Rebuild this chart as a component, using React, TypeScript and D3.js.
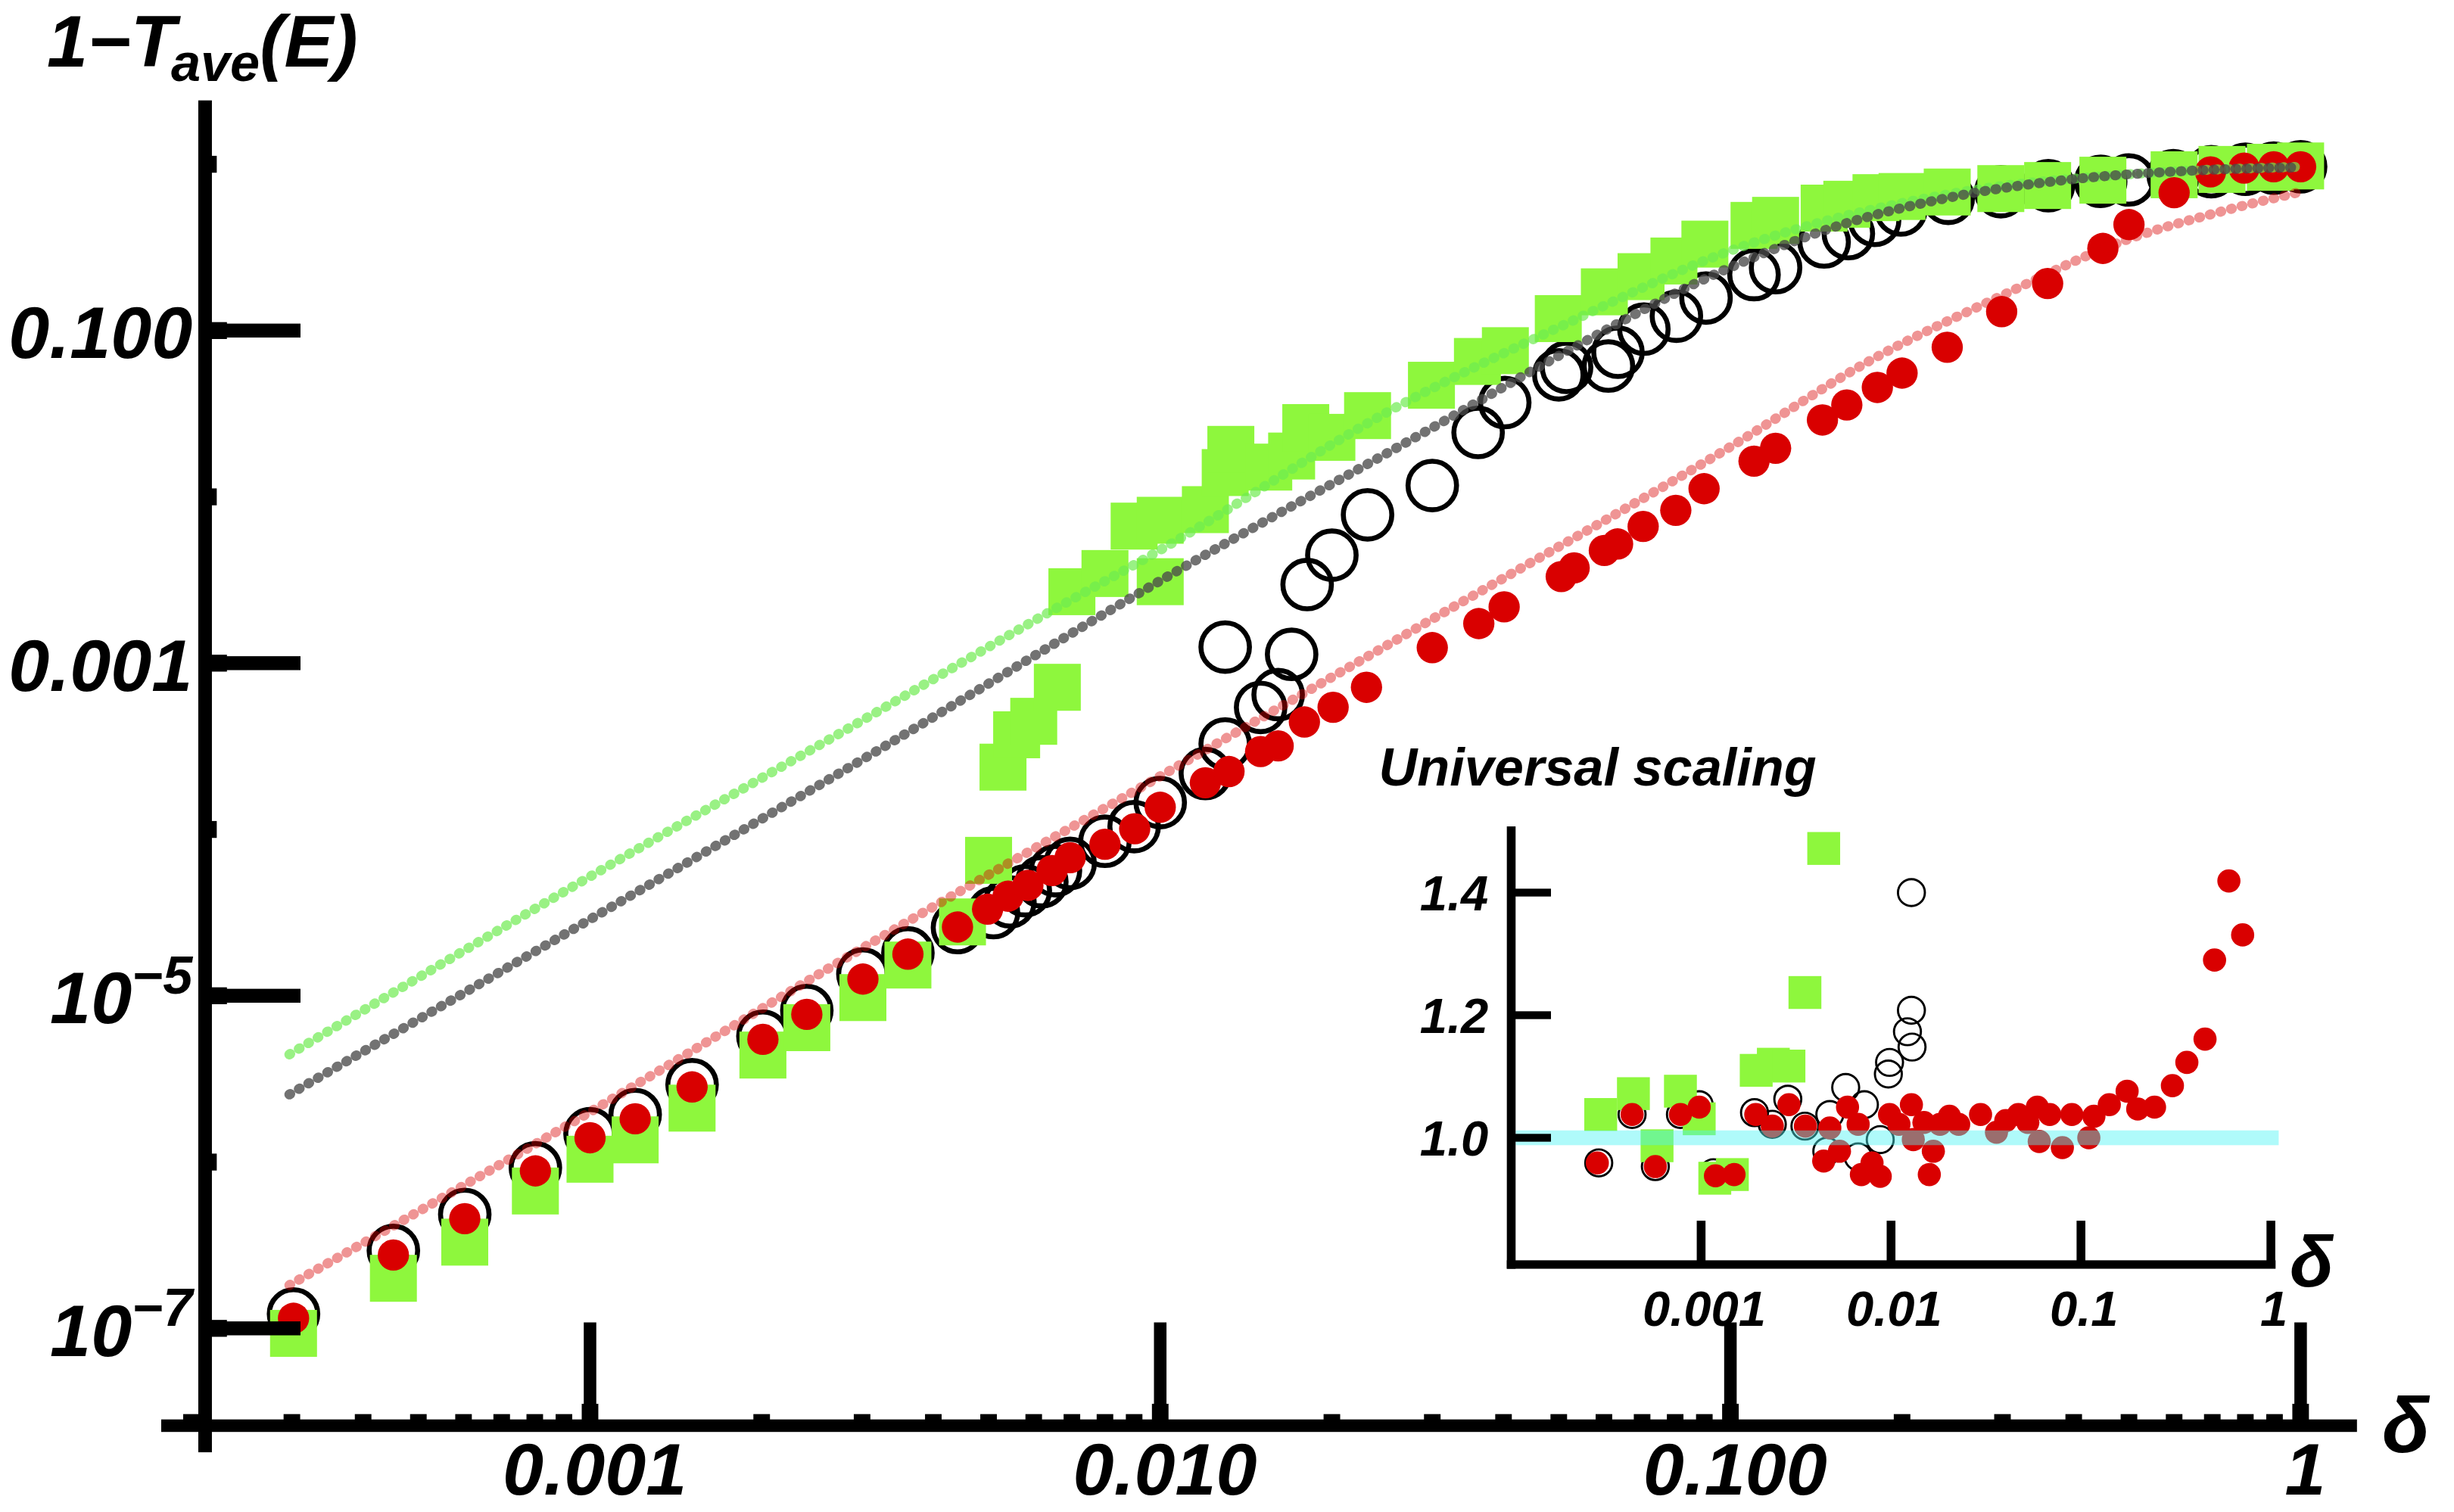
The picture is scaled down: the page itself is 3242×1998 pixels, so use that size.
import React from 'react'
import * as d3 from 'd3'

// ---- main panel: 1 - T_ave(E) against delta (log-log) ----
const redDelta = [3.02e-4, 4.52e-4, 6.03e-4, 8.02e-4, 1.0e-3, 1.2e-3, 1.51e-3, 2.01e-3, 2.4e-3, 3.01e-3, 3.61e-3, 4.41e-3, 4.98e-3, 5.41e-3, 5.86e-3, 6.46e-3, 6.95e-3, 8.0e-3, 9.02e-3, 1.0e-2, 1.2e-2, 1.32e-2, 1.5e-2, 1.61e-2, 1.79e-2, 2.01e-2, 2.3e-2, 3.0e-2, 3.62e-2, 4.01e-2, 5.05e-2, 5.32e-2, 6.01e-2, 6.34e-2, 7.03e-2, 8.02e-2, 8.99e-2, 0.11, 0.12, 0.145, 0.16, 0.181, 0.2, 0.24, 0.299, 0.36, 0.45, 0.5, 0.6, 0.695, 0.796, 0.897, 1.0]
const redT = [1.15e-7, 2.76e-7, 4.57e-7, 8.85e-7, 1.4e-6, 1.82e-6, 2.83e-6, 5.47e-6, 7.73e-6, 1.26e-5, 1.78e-5, 2.59e-5, 3.32e-5, 3.97e-5, 4.61e-5, 5.66e-5, 6.76e-5, 8.15e-5, 1.01e-4, 1.36e-4, 1.91e-4, 2.23e-4, 2.94e-4, 3.18e-4, 4.43e-4, 5.43e-4, 7.16e-4, 1.24e-3, 1.73e-3, 2.18e-3, 3.32e-3, 3.74e-3, 4.76e-3, 5.21e-3, 6.64e-3, 8.3e-3, 1.12e-2, 1.64e-2, 1.96e-2, 2.9e-2, 3.57e-2, 4.55e-2, 5.55e-2, 7.94e-2, 0.13, 0.192, 0.312, 0.434, 0.675, 0.9, 0.948, 0.966, 0.966]

const blackDelta = [3.02e-4, 4.52e-4, 6.03e-4, 8.02e-4, 1.0e-3, 1.2e-3, 1.51e-3, 2.01e-3, 2.4e-3, 3.01e-3, 3.61e-3, 4.41e-3, 5.1e-3, 5.45e-3, 5.8e-3, 6.2e-3, 6.55e-3, 6.95e-3, 8.0e-3, 9.0e-3, 1.0e-2, 1.2e-2, 1.3e-2, 1.3e-2, 1.5e-2, 1.61e-2, 1.7e-2, 1.81e-2, 2.0e-2, 2.31e-2, 3.0e-2, 3.61e-2, 4.02e-2, 5.0e-2, 5.16e-2, 6.11e-2, 6.35e-2, 7.05e-2, 8.04e-2, 9.06e-2, 0.11, 0.12, 0.146, 0.161, 0.179, 0.199, 0.241, 0.298, 0.361, 0.446, 0.5, 0.598, 0.697, 0.8, 0.897, 1.0]
const blackT = [1.22e-7, 2.94e-7, 4.84e-7, 9.23e-7, 1.48e-6, 1.93e-6, 2.92e-6, 5.71e-6, 8.15e-6, 1.35e-5, 1.81e-5, 2.57e-5, 3.16e-5, 3.67e-5, 4.28e-5, 4.85e-5, 5.65e-5, 6.25e-5, 8.49e-5, 1.04e-4, 1.45e-4, 2.17e-4, 3.27e-4, 1.25e-3, 5.42e-4, 6.47e-4, 1.13e-3, 2.97e-3, 4.46e-3, 7.8e-3, 1.17e-2, 2.44e-2, 3.69e-2, 5.42e-2, 6.01e-2, 6.12e-2, 7.41e-2, 0.102, 0.122, 0.157, 0.217, 0.239, 0.341, 0.383, 0.46, 0.531, 0.624, 0.684, 0.743, 0.789, 0.805, 0.855, 0.902, 0.933, 0.948, 0.966]

const greenDelta = [3.02e-4, 4.52e-4, 6.03e-4, 8.02e-4, 1.0e-3, 1.2e-3, 1.51e-3, 2.01e-3, 2.4e-3, 3.01e-3, 3.61e-3, 4.5e-3, 5.0e-3, 5.3e-3, 5.6e-3, 6.0e-3, 6.6e-3, 7.0e-3, 8.0e-3, 9.0e-3, 1.0e-2, 1.0e-2, 1.2e-2, 1.3e-2, 1.33e-2, 1.55e-2, 1.7e-2, 1.8e-2, 2.0e-2, 2.31e-2, 2.99e-2, 3.6e-2, 4.03e-2, 4.99e-2, 6.01e-2, 6.97e-2, 7.96e-2, 9.02e-2, 0.11, 0.12, 0.146, 0.16, 0.18, 0.2, 0.24, 0.298, 0.36, 0.45, 0.6, 0.728, 0.885, 1.0]
const greenT = [9.33e-8, 2.0e-7, 3.3e-7, 6.7e-7, 1.04e-6, 1.36e-6, 2.11e-6, 4.4e-6, 6.43e-6, 9.75e-6, 1.53e-5, 2.78e-5, 6.52e-5, 2.37e-4, 3.71e-4, 4.47e-4, 7.16e-4, 2.69e-3, 3.46e-3, 6.67e-3, 3.09e-3, 7.23e-3, 8.38e-3, 1.4e-2, 1.93e-2, 1.51e-2, 1.76e-2, 2.61e-2, 2.28e-2, 3.08e-2, 4.69e-2, 6.52e-2, 7.57e-2, 0.118, 0.171, 0.211, 0.262, 0.331, 0.429, 0.46, 0.545, 0.575, 0.63, 0.64, 0.681, 0.714, 0.745, 0.802, 0.865, 0.931, 0.959, 0.977]

// dotted theory lines, read at a few places along each line
const grayLineDelta = [2.97e-4, 1e-3, 3.16e-3, 1e-2, 3.16e-2, 5.01e-2, 0.1, 0.158, 0.251, 0.398, 0.631, 1]
const grayLineT = [2.55e-6, 2.88e-5, 2.92e-4, 3.13e-3, 2.88e-2, 7.08e-2, 0.24, 0.437, 0.646, 0.813, 0.912, 0.959]
const greenLineDelta = [2.97e-4, 1e-3, 3.16e-3, 6.31e-3, 1e-2, 2.63e-2, 5.01e-2, 0.1, 0.251, 0.501, 1]
const greenLineT = [4.44e-6, 5.21e-5, 5.01e-4, 1.98e-3, 4.79e-3, 3.55e-2, 0.105, 0.302, 0.676, 0.871, 0.966]
const pinkLineDelta = [2.97e-4, 1e-3, 3.16e-3, 1e-2, 3.16e-2, 0.1, 0.178, 0.299, 0.49, 0.715, 1]
const pinkLineT = [1.82e-7, 2.0e-6, 2.14e-5, 2.09e-4, 2.04e-3, 2.0e-2, 6.76e-2, 0.162, 0.347, 0.513, 0.682]

const xMajor = [1e-3, 1e-2, 1e-1, 1]
const xMajorLabels = ['0.001', '0.010', '0.100', '1']
const yDecades = [1, 1e-1, 1e-2, 1e-3, 1e-4, 1e-5, 1e-6, 1e-7]
const yLabelled = [1e-1, 1e-3, 1e-5, 1e-7]
const yLabelBase = ['0.100', '0.001', '10', '10']
const yLabelExp = ['', '', '−5', '−7']

// ---- inset: universal scaling ----
const insetRedDelta = [2.84e-4, 4.33e-4, 5.74e-4, 7.78e-4, 9.77e-4, 1.19e-3, 1.49e-3, 1.94e-3, 2.37e-3, 2.9e-3, 3.54e-3, 4.42e-3, 4.76e-3, 5.35e-3, 5.9e-3, 6.71e-3, 6.98e-3, 7.94e-3, 8.77e-3, 9.82e-3, 1.1e-2, 1.28e-2, 1.31e-2, 1.49e-2, 1.67e-2, 1.59e-2, 1.81e-2, 2.03e-2, 2.27e-2, 2.96e-2, 3.59e-2, 4.02e-2, 4.68e-2, 5.25e-2, 5.89e-2, 6.03e-2, 6.85e-2, 7.98e-2, 8.95e-2, 0.11, 0.117, 0.141, 0.175, 0.199, 0.244, 0.303, 0.361, 0.45, 0.505, 0.601, 0.71]
const insetRedRatio = [0.959, 1.038, 0.953, 1.038, 1.05, 0.938, 0.94, 1.038, 1.019, 1.054, 1.019, 0.962, 1.016, 0.978, 1.05, 1.022, 0.94, 0.959, 0.937, 1.038, 1.022, 1.054, 0.997, 1.025, 0.978, 0.94, 1.022, 1.035, 1.022, 1.038, 1.009, 1.028, 1.038, 1.025, 1.05, 0.994, 1.038, 0.984, 1.038, 1.0, 1.035, 1.054, 1.076, 1.047, 1.05, 1.085, 1.123, 1.161, 1.29, 1.419, 1.331]
const insetBlackDelta = [2.89e-4, 4.33e-4, 5.74e-4, 7.78e-4, 9.77e-4, 1.16e-3, 1.91e-3, 2.37e-3, 2.86e-3, 3.52e-3, 4.76e-3, 5.77e-3, 4.59e-3, 6.71e-3, 7.24e-3, 8.77e-3, 9.68e-3, 9.82e-3, 1.22e-2, 1.29e-2, 1.28e-2, 1.28e-2]
const insetBlackRatio = [0.959, 1.038, 0.953, 1.038, 1.054, 0.943, 1.041, 1.022, 1.063, 1.019, 1.038, 1.082, 0.978, 0.969, 1.054, 0.997, 1.104, 1.123, 1.173, 1.148, 1.208, 1.4]
const insetGreenDelta = [2.96e-4, 4.4e-4, 5.86e-4, 7.78e-4, 9.77e-4, 1.18e-3, 1.46e-3, 1.95e-3, 2.4e-3, 2.9e-3, 3.52e-3, 4.42e-3]
const insetGreenRatio = [1.038, 1.072, 0.987, 1.076, 1.031, 0.934, 0.94, 1.11, 1.12, 1.117, 1.237, 1.472]

const insetXTicks = [1e-3, 1e-2, 1e-1, 1]
const insetXLabels = ['0.001', '0.01', '0.1', '1']
const insetYTicks = [1.0, 1.2, 1.4]
const insetYLabels = ['1.0', '1.2', '1.4']

const FONT = "'Liberation Sans', Arial, Helvetica, sans-serif"
const RED = '#d90000'
const GREEN = '#8ef73d'

export default class App extends React.Component {
    svgRef = React.createRef<SVGSVGElement>()

    drawChart() {
        const svg = d3.select(this.svgRef.current)
        svg.selectAll('*').remove()

        const text = (g: any, x: number, y: number, size: number, anchor = 'start') =>
            g.append('text')
                .attr('x', x).attr('y', y)
                .attr('font-family', FONT).attr('font-size', size)
                .attr('font-weight', 'bold').attr('font-style', 'italic')
                .attr('text-anchor', anchor)

        // main scales (viewBox units)
        const x = d3.scaleLog().domain([1e-3, 1]).range([377, 1470])
        const y = d3.scaleLog().domain([1e-7, 1e-1]).range([848.8, 211.1])
        const main = svg.append('g')

        // data markers: rings, then squares, then dots
        main.append('g').selectAll('circle').data(d3.zip(blackDelta, blackT)).enter().append('circle')
            .attr('cx', d => x(d[0])).attr('cy', d => y(d[1])).attr('r', 15.5)
            .attr('fill', 'none').attr('stroke', '#000').attr('stroke-width', 3.2)
        main.append('g').selectAll('rect').data(d3.zip(greenDelta, greenT)).enter().append('rect')
            .attr('x', d => x(d[0]) - 15).attr('y', d => y(d[1]) - 15)
            .attr('width', 30).attr('height', 30).attr('fill', GREEN)
        main.append('g').selectAll('circle').data(d3.zip(redDelta, redT)).enter().append('circle')
            .attr('cx', d => x(d[0])).attr('cy', d => y(d[1])).attr('r', 10).attr('fill', RED)

        // dotted theory lines on top
        const line = d3.line<number[]>().x(d => x(d[0])).y(d => y(d[1])).curve(d3.curveMonotoneX)
        const lines = [
            { pts: d3.zip(greenLineDelta, greenLineT), color: 'rgb(110,235,80)', op: 0.7 },
            { pts: d3.zip(grayLineDelta, grayLineT), color: '#4a4a4a', op: 0.78 },
            { pts: d3.zip(pinkLineDelta, pinkLineT), color: RED, op: 0.42 },
        ]
        lines.forEach(l => {
            main.append('path').attr('d', line(l.pts)).attr('fill', 'none')
                .attr('stroke', l.color).attr('stroke-opacity', l.op)
                .attr('stroke-width', 6.4).attr('stroke-linecap', 'round')
                .attr('stroke-dasharray', '0.6 6.4')
        })

        // axes and ticks, drawn over the marks
        main.append('rect').attr('x', 103).attr('y', 907).attr('width', 1506 - 103).attr('height', 8)
        main.append('rect').attr('x', 126.7).attr('y', 64).attr('width', 8.7).attr('height', 928 - 64)

        // x ticks: a short fat mark at every 1..9 multiple, a long one at decades
        const xMinor = d3.scaleLog().domain([1.9e-4, 1]).ticks()
        main.append('g').selectAll('rect').data(xMinor).enter().append('rect')
            .attr('x', d => x(d) - 5.3).attr('width', 10.6)
            .attr('y', d => (xMajor.includes(d) ? 897 : 903.6))
            .attr('height', d => (xMajor.includes(d) ? 11 : 4.4))
        main.append('g').selectAll('rect').data(xMajor).enter().append('rect')
            .attr('x', d => x(d) - 4).attr('width', 8).attr('y', 845).attr('height', 63)
        xMajor.forEach((d, i) => text(main, x(d) + 3, 955, 47, 'middle').text(xMajorLabels[i]))

        // y ticks
        main.append('g').selectAll('rect').data(yDecades).enter().append('rect')
            .attr('x', 134.5).attr('y', d => y(d) - 5.4).attr('height', 10.8)
            .attr('width', d => (yLabelled.includes(d) ? 10.5 : 4))
        main.append('g').selectAll('rect').data(yLabelled).enter().append('rect')
            .attr('x', 134.5).attr('y', d => y(d) - 4.45).attr('height', 8.9).attr('width', 192 - 134.5)
        yLabelled.forEach((d, i) => {
            const t = text(main, 123, y(d) + 17.5, 47, 'end')
            t.append('tspan').text(yLabelBase[i])
            if (yLabelExp[i]) t.append('tspan').attr('font-size', 34).attr('dy', -19).text(yLabelExp[i])
        })

        // axis titles
        const yt = text(svg, 30, 42.5, 47)
        yt.append('tspan').text('1−T')
        yt.append('tspan').attr('font-size', 34).attr('dy', 9).attr('dx', -3).text('ave')
        yt.append('tspan').attr('font-size', 47).attr('dy', -9).text('(E)')
        text(svg, 1522, 928, 50).text('δ')

        // ---- inset ----
        const xi = d3.scaleLog().domain([1e-4, 1]).range([965.6, 1451])
        const yi = d3.scaleLinear().domain([1.0, 1.4]).range([727, 570.3])
        const inset = svg.append('g')

        inset.append('g').selectAll('circle').data(d3.zip(insetBlackDelta, insetBlackRatio)).enter().append('circle')
            .attr('cx', d => xi(d[0])).attr('cy', d => yi(d[1])).attr('r', 8.6)
            .attr('fill', 'none').attr('stroke', '#000').attr('stroke-width', 1.4)
        inset.append('g').selectAll('rect').data(d3.zip(insetGreenDelta, insetGreenRatio)).enter().append('rect')
            .attr('x', d => xi(d[0]) - 10.5).attr('y', d => yi(d[1]) - 10.5)
            .attr('width', 21).attr('height', 21).attr('fill', GREEN)
        inset.append('g').selectAll('circle').data(d3.zip(insetRedDelta, insetRedRatio)).enter().append('circle')
            .attr('cx', d => xi(d[0])).attr('cy', d => yi(d[1])).attr('r', 7.4).attr('fill', RED)

        // reference level at 1, translucent over the points
        inset.append('line').attr('x1', 968.5).attr('x2', 1456).attr('y1', yi(1)).attr('y2', yi(1))
            .attr('stroke', 'rgb(78,244,244)').attr('stroke-opacity', 0.45).attr('stroke-width', 9.5)

        inset.append('rect').attr('x', 962.8).attr('y', 528).attr('width', 5.6).attr('height', 810.7 - 528)
        inset.append('rect').attr('x', 962.8).attr('y', 805.3).attr('width', 1454 - 962.8).attr('height', 5.4)
        inset.append('g').selectAll('rect').data(insetXTicks).enter().append('rect')
            .attr('x', d => xi(d) - 2.8).attr('width', 5.6).attr('y', 780).attr('height', 27)
        insetXTicks.forEach((d, i) => text(inset, xi(d) + 2, 847, 31.5, 'middle').text(insetXLabels[i]))
        inset.append('g').selectAll('rect').data(insetYTicks).enter().append('rect')
            .attr('x', 965).attr('width', 26).attr('y', d => yi(d) - 2.5).attr('height', 5)
        insetYTicks.forEach((d, i) => text(inset, 951, yi(d) + 11.5, 31.5, 'end').text(insetYLabels[i]))

        text(inset, 881, 502, 34).text('Universal scaling')
        text(inset, 1463, 822, 46).text('δ')
    }

    componentDidMount() {
        this.drawChart()
    }

    render() {
        return (
            <svg ref={this.svgRef} width={3242} height={1998} viewBox="0 0 1568 966"
                style={{ position: 'absolute', left: 0, top: 0, background: '#fff' }} />
        )
    }
}
